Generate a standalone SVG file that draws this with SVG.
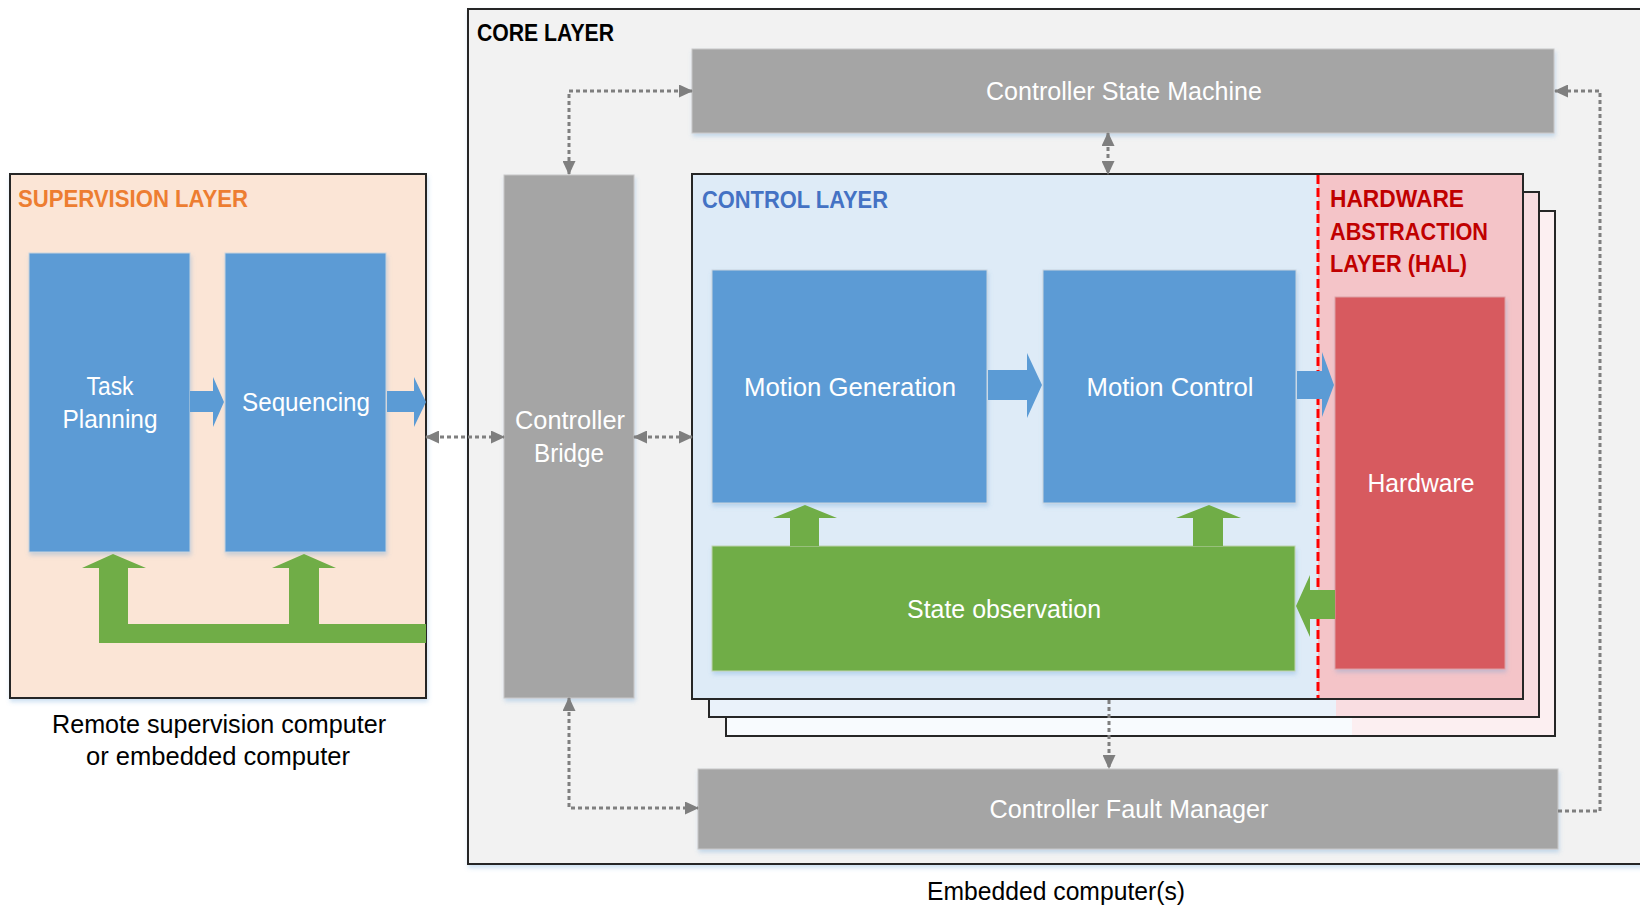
<svg xmlns="http://www.w3.org/2000/svg" width="1640" height="907" viewBox="0 0 1640 907">
<defs>
<style>
text{font-family:"Liberation Sans",Arial,sans-serif;}
.t{font-size:25px;fill:#ffffff;text-anchor:middle;}
.k{font-size:25px;fill:#000000;text-anchor:middle;}
.h{font-size:24.5px;font-weight:bold;}
.blue{fill:#5B9BD5;stroke:#C9D4DE;stroke-width:1;}
.gray{fill:#A5A5A5;stroke:#C8C8C8;stroke-width:1;}
.green{fill:#70AD47;stroke:#BFD4B0;stroke-width:1;}
.ba{fill:#5B9BD5;}
.ga{fill:#70AD47;}
.con{fill:none;stroke:#7F7F7F;stroke-width:3;stroke-dasharray:4,3;}
.frame{fill:none;stroke:#262626;stroke-width:2;}
</style>
<filter id="sh" x="-10%" y="-10%" width="130%" height="130%">
<feDropShadow dx="1" dy="3" stdDeviation="2" flood-color="#5B9BD5" flood-opacity="0.3"/>
</filter>
<marker id="ah" viewBox="0 0 14 13" refX="13" refY="6.5" markerWidth="14" markerHeight="13" markerUnits="userSpaceOnUse" orient="auto-start-reverse">
<path d="M0,0 L14,6.5 L0,13 z" fill="#7F7F7F"/>
</marker>
</defs>
<rect width="1640" height="907" fill="#ffffff"/>

<g id="supervision-layer">
<rect x="10" y="174" width="416" height="524" fill="#FBE5D6" stroke="#262626" stroke-width="2" filter="url(#sh)"/>
<text class="h" x="18" y="207" fill="#ED7D31" textLength="230" lengthAdjust="spacingAndGlyphs">SUPERVISION LAYER</text>
</g>

<g id="task-planning">
<rect class="blue" x="29" y="253" width="161" height="299" filter="url(#sh)"/>
<text class="t" x="110" y="395" textLength="47" lengthAdjust="spacingAndGlyphs">Task</text>
<text class="t" x="110" y="428" textLength="95" lengthAdjust="spacingAndGlyphs">Planning</text>
</g>

<g id="sequencing">
<rect class="blue" x="225" y="253" width="161" height="299" filter="url(#sh)"/>
<text class="t" x="306" y="411" textLength="128" lengthAdjust="spacingAndGlyphs">Sequencing</text>
</g>

<g id="supervision-arrows">
<polygon class="ba" points="190,391 213,391 213,377 224,402 213,427 213,412 190,412"/>
<polygon class="ba" points="387,391 414,391 414,377 426,402 414,427 414,412 387,412"/>
<polygon class="ga" points="113,554 146,568 128,568 128,624 426,624 426,643 99,643 99,568 82,568"/>
<polygon class="ga" points="304,554 336,568 319,568 319,624 289,624 289,568 272,568"/>
</g>

<g id="supervision-caption">
<text class="k" x="219" y="733" textLength="334" lengthAdjust="spacingAndGlyphs">Remote supervision computer</text>
<text class="k" x="218" y="765" textLength="264" lengthAdjust="spacingAndGlyphs">or embedded computer</text>
</g>

<g id="core-layer">
<rect x="468" y="9" width="1200" height="855" fill="#F2F2F2" stroke="#262626" stroke-width="2" filter="url(#sh)"/>
<text class="h" x="477" y="41" fill="#000000" textLength="137" lengthAdjust="spacingAndGlyphs">CORE LAYER</text>
</g>

<g id="controller-state-machine">
<rect class="gray" x="692" y="49" width="862" height="84" filter="url(#sh)"/>
<text class="t" x="1124" y="100" textLength="276" lengthAdjust="spacingAndGlyphs">Controller State Machine</text>
</g>

<g id="controller-bridge">
<rect class="gray" x="504" y="175" width="130" height="523" filter="url(#sh)"/>
<text class="t" x="570" y="429" textLength="110" lengthAdjust="spacingAndGlyphs">Controller</text>
<text class="t" x="569" y="462" textLength="70" lengthAdjust="spacingAndGlyphs">Bridge</text>
</g>

<g id="control-page-3">
<rect x="726" y="211" width="829" height="525" fill="#F8FBFE"/>
<rect x="1352" y="211" width="203" height="525" fill="#FCEFF1"/>
<rect class="frame" x="726" y="211" width="829" height="525"/>
</g>

<g id="control-page-2">
<rect x="709" y="192" width="830" height="525" fill="#EAF2FA"/>
<rect x="1336" y="192" width="203" height="525" fill="#F9DDE1"/>
<rect class="frame" x="709" y="192" width="830" height="525"/>
</g>

<g id="control-layer">
<rect x="692" y="174" width="831" height="525" fill="#DEEBF7"/>
<rect x="1318" y="174" width="205" height="525" fill="#F4C4C8"/>
<line x1="1318" y1="175" x2="1318" y2="698" stroke="#FF0000" stroke-width="3" stroke-dasharray="9,4"/>
<rect class="frame" x="692" y="174" width="831" height="525"/>
<text class="h" x="702" y="208" fill="#4472C4" textLength="186" lengthAdjust="spacingAndGlyphs">CONTROL LAYER</text>
</g>

<g id="hal-layer">
<text class="h" x="1330" y="207" fill="#C00000" textLength="134" lengthAdjust="spacingAndGlyphs">HARDWARE</text>
<text class="h" x="1330" y="240" fill="#C00000" textLength="158" lengthAdjust="spacingAndGlyphs">ABSTRACTION</text>
<text class="h" x="1330" y="272" fill="#C00000" textLength="137" lengthAdjust="spacingAndGlyphs">LAYER (HAL)</text>
</g>

<g id="motion-generation">
<rect class="blue" x="712" y="270" width="275" height="233" filter="url(#sh)"/>
<text class="t" x="850" y="396" textLength="212" lengthAdjust="spacingAndGlyphs">Motion Generation</text>
</g>

<g id="motion-control">
<rect class="blue" x="1043" y="270" width="253" height="233" filter="url(#sh)"/>
<text class="t" x="1170" y="396" textLength="167" lengthAdjust="spacingAndGlyphs">Motion Control</text>
</g>

<g id="hardware">
<rect x="1335" y="297" width="170" height="372" fill="#D75A5F" stroke="#DDA0A3" stroke-width="1" filter="url(#sh)"/>
<text class="t" x="1421" y="492" textLength="107" lengthAdjust="spacingAndGlyphs">Hardware</text>
</g>

<g id="state-observation">
<rect class="green" x="712" y="546" width="583" height="125" filter="url(#sh)"/>
<text class="t" x="1004" y="618" textLength="194" lengthAdjust="spacingAndGlyphs">State observation</text>
</g>

<g id="control-arrows">
<polygon class="ba" points="988,370 1027,370 1027,353 1042,385 1027,418 1027,400 988,400"/>
<polygon class="ba" points="1297,371 1322,371 1322,352 1334,385 1322,417 1322,399 1297,399"/>
<polygon class="ga" points="805,505 837,518 819,518 819,546 790,546 790,518 773,518"/>
<polygon class="ga" points="1209,505 1241,518 1223,518 1223,546 1193,546 1193,518 1176,518"/>
<polygon class="ga" points="1296,606 1310,575 1310,590 1335,590 1335,619 1310,619 1310,637"/>
</g>

<g id="controller-fault-manager">
<rect class="gray" x="698" y="769" width="860" height="80" filter="url(#sh)"/>
<text class="t" x="1129" y="818" textLength="279" lengthAdjust="spacingAndGlyphs">Controller Fault Manager</text>
</g>

<g id="connectors">
<path class="con" d="M692,91 H569 V174" marker-start="url(#ah)" marker-end="url(#ah)"/>
<path class="con" d="M1108,133 V174" marker-start="url(#ah)" marker-end="url(#ah)"/>
<path class="con" d="M1558,811 H1600 V91 H1555" marker-end="url(#ah)"/>
<path class="con" d="M569,698 V808 H698" marker-start="url(#ah)" marker-end="url(#ah)"/>
<path class="con" d="M1109,700 V768" marker-end="url(#ah)"/>
<path class="con" d="M426,437 H504" marker-start="url(#ah)" marker-end="url(#ah)"/>
<path class="con" d="M634,437 H692" marker-start="url(#ah)" marker-end="url(#ah)"/>
</g>

<g id="core-caption">
<text class="k" x="1056" y="900" textLength="258" lengthAdjust="spacingAndGlyphs">Embedded computer(s)</text>
</g>
</svg>
